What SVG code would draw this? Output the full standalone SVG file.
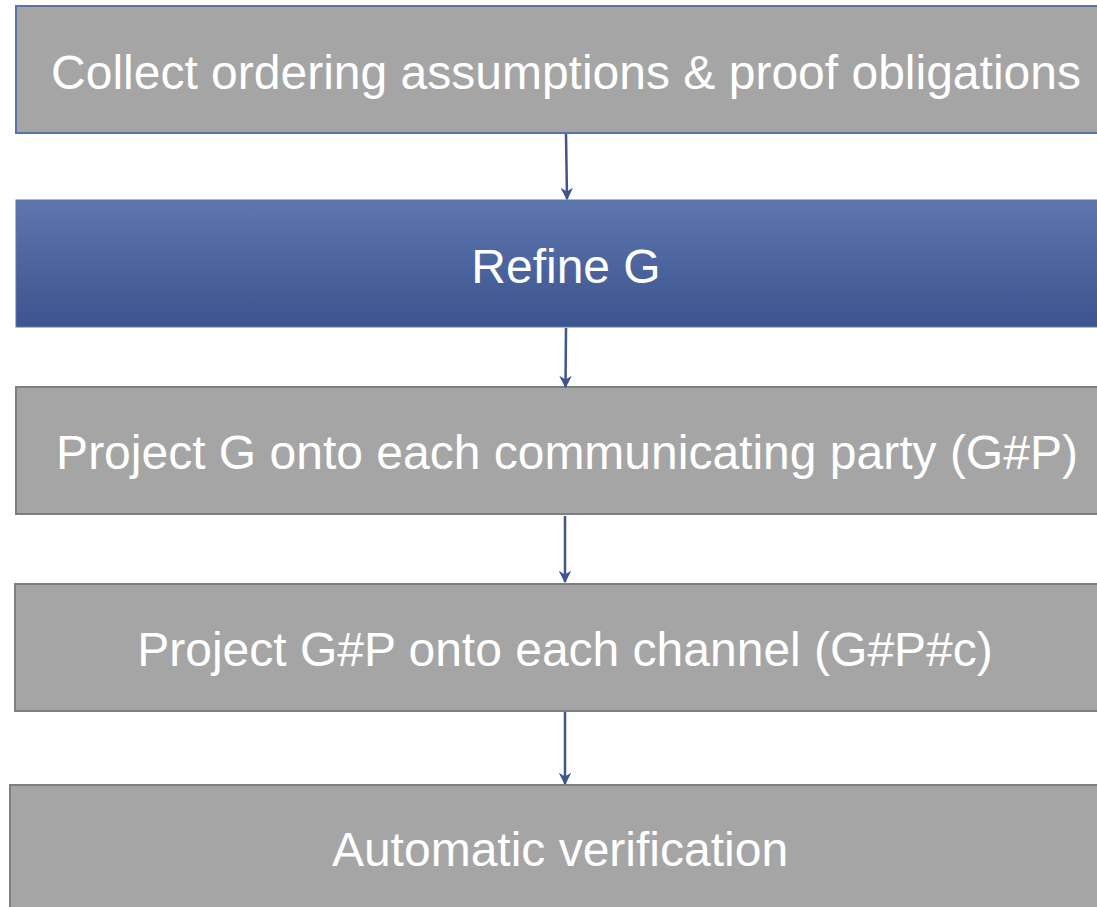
<svg xmlns="http://www.w3.org/2000/svg" width="1097" height="907" viewBox="0 0 1097 907">
<style>
.box{fill:#a5a5a5;stroke:#7f7f7f;stroke-width:2}
.lbl{font-family:"Liberation Sans",Arial,sans-serif;font-size:48px;fill:#ffffff;text-anchor:middle}
.conn{stroke:#3f558c;stroke-width:2.5;fill:none;marker-end:url(#ah)}
</style>
<defs>
<linearGradient id="blue" x1="0" y1="0" x2="0" y2="1">
<stop offset="0" stop-color="#5e76ae"/>
<stop offset="1" stop-color="#3c548f"/>
</linearGradient>
<marker id="ah" viewBox="0 0 10 10" refX="9" refY="5" markerWidth="5" markerHeight="5" orient="auto" markerUnits="strokeWidth">
<path d="M0,0 L10,5 L0,10 L3,5 Z" fill="#3f558c"/>
</marker>
</defs>
<g id="n1">
<rect x="16" y="6" width="1100" height="127" fill="#a5a5a5" stroke="#5a74ab" stroke-width="2"/>
<text class="lbl" x="566" y="89">Collect ordering assumptions &amp; proof obligations</text>
</g>
<g id="n2">
<rect x="16" y="200" width="1100" height="127" fill="url(#blue)" stroke="#5a74ab" stroke-width="1"/>
<text class="lbl" x="566" y="283">Refine G</text>
</g>
<g id="n3">
<rect class="box" x="16" y="387" width="1100" height="127"/>
<text class="lbl" x="567" y="469">Project G onto each communicating party (G#P)</text>
</g>
<g id="n4">
<rect class="box" x="15" y="584" width="1100" height="127"/>
<text class="lbl" x="565" y="666">Project G#P onto each channel (G#P#c)</text>
</g>
<g id="n5">
<rect class="box" x="10" y="785" width="1100" height="140"/>
<text class="lbl" x="560" y="866">Automatic verification</text>
</g>
<g id="connectors">
<line class="conn" x1="566" y1="134" x2="567" y2="199"/>
<line class="conn" x1="566" y1="328" x2="565.5" y2="387"/>
<line class="conn" x1="565" y1="516" x2="565" y2="582"/>
<line class="conn" x1="565" y1="712" x2="565" y2="784"/>
</g>
</svg>
